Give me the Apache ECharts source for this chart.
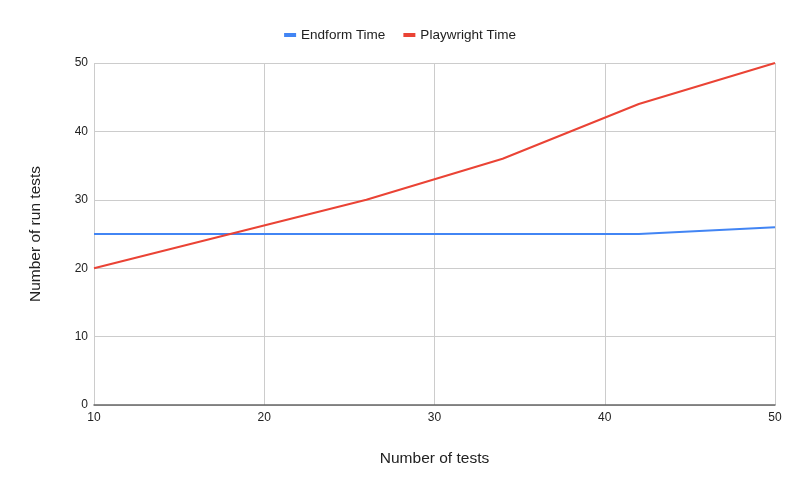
<!DOCTYPE html>
<html>
<head>
<meta charset="utf-8">
<script src="https://cdn.jsdelivr.net/npm/echarts@6/dist/echarts.min.js"></script>
<style>
  html, body { margin: 0; padding: 0; background: #fff; }
  #container { width: 800px; height: 493px; }
</style>
</head>
<body>
<div id="container"></div>
<script>
  // number of tests (x) and times for each tool
  const testCounts = [10, 18, 26, 34, 42, 50];
  const endformTime = [25, 25, 25, 25, 25, 26];
  const playwrightTime = [20, 25, 30, 36, 44, 50];

  const dom = document.getElementById("container");
  const myChart = echarts.init(dom, null, { renderer: "canvas" });

  const font = "'Liberation Sans', Arial, sans-serif";

  const option = {
    animation: false,
    textStyle: { fontFamily: font },
    legend: {
      top: 23,
      left: "center",
      itemWidth: 12,
      itemHeight: 4,
      itemGap: 18,
      icon: "rect",
      textStyle: { fontSize: 13.5, color: "#222", fontFamily: font },
      data: ["Endform Time", "Playwright Time"],
    },
    grid: {
      left: 94,
      right: 25,
      top: 63,
      bottom: 88,
    },
    xAxis: {
      type: "value",
      min: 10,
      max: 50,
      interval: 10,
      name: "Number of tests",
      nameLocation: "center",
      nameGap: 46,
      nameTextStyle: { fontSize: 15.5, color: "#222", fontFamily: font },
      axisLine: { show: true, lineStyle: { color: "#666", width: 1.5 } },
      axisTick: { show: false },
      axisLabel: { color: "#222", fontSize: 12, margin: 7, fontFamily: font },
      splitLine: { show: true, lineStyle: { color: "#ccc", width: 1 } },
    },
    yAxis: {
      type: "value",
      min: 0,
      max: 50,
      interval: 10,
      name: "Number of run tests",
      nameLocation: "center",
      nameGap: 50,
      nameTextStyle: { fontSize: 15.5, color: "#222", fontFamily: font },
      axisLine: { show: false },
      axisTick: { show: false },
      axisLabel: { color: "#222", fontSize: 12, margin: 6, fontFamily: font },
      splitLine: { show: true, lineStyle: { color: "#ccc", width: 1 } },
    },
    series: [
      {
        name: "Endform Time",
        type: "line",
        data: testCounts.map((x, i) => [x, endformTime[i]]),
        showSymbol: false,
        lineStyle: { color: "#4285f4", width: 2 },
        itemStyle: { color: "#4285f4" },
      },
      {
        name: "Playwright Time",
        type: "line",
        data: testCounts.map((x, i) => [x, playwrightTime[i]]),
        showSymbol: false,
        lineStyle: { color: "#ea4335", width: 2 },
        itemStyle: { color: "#ea4335" },
      },
    ],
  };

  myChart.setOption(option);
</script>
</body>
</html>
